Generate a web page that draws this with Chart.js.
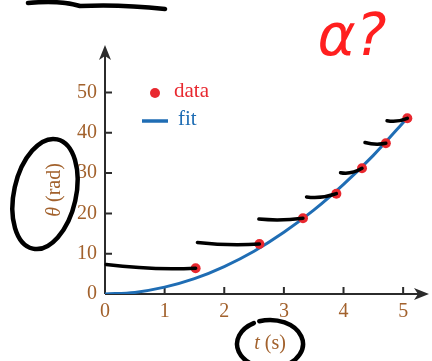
<!DOCTYPE html>
<html>
<head>
<meta charset="utf-8">
<script src="https://cdn.jsdelivr.net/npm/chart.js@4/dist/chart.umd.min.js"></script>
<style>
  body { margin: 0; background: #fff; }
</style>
</head>
<body>
<canvas id="chart" width="432" height="361"></canvas>
<script>
// values
const dataT = [1.52, 2.59, 3.32, 3.88, 4.31, 4.71, 5.07];
const dataTheta = [6.4, 12.4, 18.8, 24.9, 31.2, 37.4, 43.6];
const fitT = [0, 0.5, 1, 1.5, 2, 2.5, 3, 3.5, 4, 4.5, 5.07];
const fitTheta = [0, 0.4, 1.7, 3.8, 6.8, 10.6, 15.3, 20.8, 27.2, 34.4, 43.7];
const tTicks = [0, 1, 2, 3, 4, 5];
const thetaTicks = [0, 10, 20, 30, 40, 50];
// hand-drawn strokes: left end of each stroke (t, theta), drawn to its data point
const strokeStart = [[0.02, 7.3], [1.55, 12.8], [2.58, 18.6], [3.38, 24.1], [3.95, 30.1], [4.36, 37.6], [4.73, 43.0]];

const brown = "#a2612c";
const red = "#e8282f";
const blue = "#1f6db4";
const axisColor = "#2b2b2b";
const serif = "'Liberation Serif', 'DejaVu Serif', serif";

const axesPlugin = {
  id: "axes",
  beforeDatasetsDraw(chart) {
    const { ctx, chartArea, scales } = chart;
    const x0 = scales.x.getPixelForValue(0);
    const y0 = scales.y.getPixelForValue(0);
    ctx.save();
    ctx.strokeStyle = axisColor;
    ctx.fillStyle = axisColor;
    ctx.lineWidth = 2;
    // axis lines
    ctx.beginPath();
    ctx.moveTo(x0, y0);
    ctx.lineTo(x0, chartArea.top + 8);
    ctx.moveTo(x0, y0);
    ctx.lineTo(chartArea.right - 6, y0);
    ctx.stroke();
    // arrow heads
    ctx.beginPath();
    ctx.moveTo(x0, chartArea.top - 2);
    ctx.lineTo(x0 - 6, chartArea.top + 13);
    ctx.lineTo(x0, chartArea.top + 9);
    ctx.lineTo(x0 + 6, chartArea.top + 13);
    ctx.closePath();
    ctx.fill();
    ctx.beginPath();
    ctx.moveTo(chartArea.right + 2, y0);
    ctx.lineTo(chartArea.right - 13, y0 - 6);
    ctx.lineTo(chartArea.right - 9, y0);
    ctx.lineTo(chartArea.right - 13, y0 + 6);
    ctx.closePath();
    ctx.fill();
    // inward tick marks
    ctx.beginPath();
    tTicks.slice(1).forEach((v) => {
      const px = scales.x.getPixelForValue(v);
      ctx.moveTo(px, y0);
      ctx.lineTo(px, y0 - 7);
    });
    thetaTicks.slice(1).forEach((v) => {
      const py = scales.y.getPixelForValue(v);
      ctx.moveTo(x0, py);
      ctx.lineTo(x0 + 7, py);
    });
    ctx.stroke();
    ctx.restore();
  },
};

const labelsPlugin = {
  id: "labels",
  afterDatasetsDraw(chart) {
    const { ctx, scales } = chart;
    const ds = chart.data.datasets;
    ctx.save();
    ctx.textBaseline = "middle";
    ctx.textAlign = "left";

    // legend
    ctx.fillStyle = ds[0].backgroundColor;
    ctx.beginPath();
    ctx.arc(155, 93, 5, 0, Math.PI * 2);
    ctx.fill();
    ctx.font = "21px " + serif;
    ctx.fillText(ds[0].label, 174, 91);
    ctx.strokeStyle = ds[1].borderColor;
    ctx.lineWidth = 3.5;
    ctx.beginPath();
    ctx.moveTo(142, 121);
    ctx.lineTo(168, 121);
    ctx.stroke();
    ctx.fillStyle = ds[1].borderColor;
    ctx.fillText(ds[1].label, 178, 119);

    // axis titles
    ctx.fillStyle = brown;
    ctx.save();
    ctx.translate(55, 190);
    ctx.rotate(-Math.PI / 2);
    ctx.font = "italic 20px " + serif;
    const w1 = ctx.measureText("\u03b8").width;
    ctx.font = "20px " + serif;
    const w2 = ctx.measureText(" (rad)").width;
    ctx.font = "italic 20px " + serif;
    ctx.fillText("\u03b8", -(w1 + w2) / 2, 0);
    ctx.font = "20px " + serif;
    ctx.fillText(" (rad)", -(w1 + w2) / 2 + w1, 0);
    ctx.restore();

    ctx.font = "italic 20px " + serif;
    const t1 = ctx.measureText("t").width;
    ctx.font = "20px " + serif;
    const t2 = ctx.measureText(" (s)").width;
    ctx.font = "italic 20px " + serif;
    ctx.fillText("t", 270 - (t1 + t2) / 2, 344);
    ctx.font = "20px " + serif;
    ctx.fillText(" (s)", 270 - (t1 + t2) / 2 + t1, 344);

    // hand-drawn marks
    ctx.strokeStyle = "#000";
    ctx.lineWidth = 3.5;
    ctx.lineCap = "round";
    strokeStart.forEach((s, i) => {
      const ax = scales.x.getPixelForValue(s[0]);
      const ay = scales.y.getPixelForValue(s[1]);
      const bx = scales.x.getPixelForValue(dataT[i]);
      const by = scales.y.getPixelForValue(dataTheta[i]);
      ctx.beginPath();
      ctx.moveTo(ax, ay);
      ctx.quadraticCurveTo((ax + bx) / 2, Math.max(ay, by) + 2, bx, by);
      ctx.stroke();
    });
    ctx.lineWidth = 4.5;
    ctx.beginPath();
    ctx.ellipse(45, 194, 31, 56, 0.22, 0, Math.PI * 2);
    ctx.stroke();
    ctx.beginPath();
    ctx.ellipse(270, 344, 33, 24, 0, -1.9, 4.2);
    ctx.stroke();
    ctx.beginPath();
    ctx.moveTo(28, 3);
    ctx.quadraticCurveTo(60, 0, 80, 6);
    ctx.quadraticCurveTo(120, 4, 165, 9);
    ctx.stroke();

    ctx.fillStyle = "#ff1f1f";
    ctx.font = "italic 58px 'DejaVu Sans', sans-serif";
    ctx.textAlign = "center";
    ctx.fillText("\u03b1?", 352, 40);
    ctx.restore();
  },
};

new Chart(document.getElementById("chart"), {
  type: "scatter",
  data: {
    datasets: [
      {
        label: "data",
        data: dataT.map((t, i) => ({ x: t, y: dataTheta[i] })),
        backgroundColor: red,
        borderColor: red,
        pointRadius: 5,
        pointBorderWidth: 0,
        order: 0,
      },
      {
        label: "fit",
        data: fitT.map((t, i) => ({ x: t, y: fitTheta[i] })),
        showLine: true,
        borderColor: blue,
        backgroundColor: blue,
        borderWidth: 3,
        pointRadius: 0,
        cubicInterpolationMode: "monotone",
        order: 1,
      },
    ],
  },
  options: {
    responsive: false,
    animation: false,
    layout: { padding: { left: 55, right: 3, top: 47, bottom: 27 } },
    plugins: { legend: { display: false }, tooltip: { enabled: false } },
    scales: {
      x: {
        type: "linear",
        min: 0,
        max: 5.4,
        afterBuildTicks: (s) => { s.ticks = tTicks.map((v) => ({ value: v })); },
        afterFit: (s) => { s.height = 40; },
        grid: { display: false, drawTicks: false },
        border: { display: false },
        ticks: { color: brown, padding: 6, font: { family: serif, size: 20 } },
      },
      y: {
        type: "linear",
        min: 0,
        max: 61.3,
        afterBuildTicks: (s) => { s.ticks = thetaTicks.map((v) => ({ value: v })); },
        afterFit: (s) => { s.width = 50; },
        grid: { display: false, drawTicks: false },
        border: { display: false },
        ticks: { color: brown, padding: 8, font: { family: serif, size: 20 } },
      },
    },
  },
  plugins: [axesPlugin, labelsPlugin],
});
</script>
</body>
</html>
